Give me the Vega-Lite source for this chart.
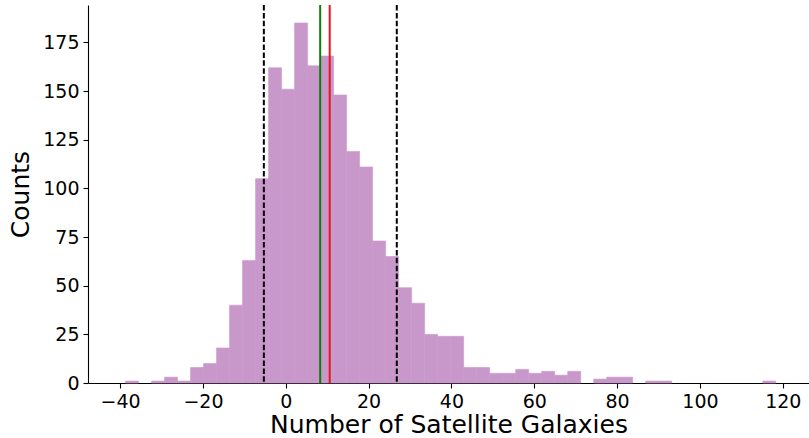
{
  "$schema": "https://vega.github.io/schema/vega-lite/v6.json",
  "autosize": "none",
  "width": 721,
  "height": 378,
  "padding": {"left": 88, "top": 5, "right": 0, "bottom": 55},
  "background": "white",
  "config": {
    "view": {"stroke": null},
    "font": "DejaVu Sans",
    "axis": {
      "grid": false,
      "domainColor": "#000000",
      "domainWidth": 1.1,
      "tickColor": "#000000",
      "tickWidth": 1.1,
      "tickSize": 5,
      "labelFont": "DejaVu Sans",
      "labelFontSize": 19,
      "labelColor": "#000000",
      "labelPadding": 4,
      "titleFont": "DejaVu Sans",
      "titleFontSize": 25,
      "titleFontWeight": "normal",
      "titleColor": "#000000"
    }
  },
  "datasets": {
    "bins": [
      {"bin_start": -38.70, "bin_end": -35.56, "count": 1},
      {"bin_start": -35.56, "bin_end": -32.42, "count": 0},
      {"bin_start": -32.42, "bin_end": -29.28, "count": 1},
      {"bin_start": -29.28, "bin_end": -26.14, "count": 3},
      {"bin_start": -26.14, "bin_end": -23.00, "count": 1},
      {"bin_start": -23.00, "bin_end": -19.86, "count": 8},
      {"bin_start": -19.86, "bin_end": -16.72, "count": 10},
      {"bin_start": -16.72, "bin_end": -13.58, "count": 18},
      {"bin_start": -13.58, "bin_end": -10.44, "count": 40},
      {"bin_start": -10.44, "bin_end": -7.30, "count": 63},
      {"bin_start": -7.30, "bin_end": -4.16, "count": 105},
      {"bin_start": -4.16, "bin_end": -1.02, "count": 162},
      {"bin_start": -1.02, "bin_end": 2.12, "count": 151},
      {"bin_start": 2.12, "bin_end": 5.26, "count": 185},
      {"bin_start": 5.26, "bin_end": 8.40, "count": 163},
      {"bin_start": 8.40, "bin_end": 11.54, "count": 168},
      {"bin_start": 11.54, "bin_end": 14.68, "count": 148},
      {"bin_start": 14.68, "bin_end": 17.82, "count": 119},
      {"bin_start": 17.82, "bin_end": 20.96, "count": 111},
      {"bin_start": 20.96, "bin_end": 24.10, "count": 73},
      {"bin_start": 24.10, "bin_end": 27.24, "count": 65},
      {"bin_start": 27.24, "bin_end": 30.38, "count": 49},
      {"bin_start": 30.38, "bin_end": 33.52, "count": 41},
      {"bin_start": 33.52, "bin_end": 36.66, "count": 25},
      {"bin_start": 36.66, "bin_end": 39.80, "count": 24},
      {"bin_start": 39.80, "bin_end": 42.94, "count": 24},
      {"bin_start": 42.94, "bin_end": 46.08, "count": 8},
      {"bin_start": 46.08, "bin_end": 49.22, "count": 8},
      {"bin_start": 49.22, "bin_end": 52.36, "count": 5},
      {"bin_start": 52.36, "bin_end": 55.50, "count": 5},
      {"bin_start": 55.50, "bin_end": 58.64, "count": 7},
      {"bin_start": 58.64, "bin_end": 61.78, "count": 5},
      {"bin_start": 61.78, "bin_end": 64.92, "count": 6},
      {"bin_start": 64.92, "bin_end": 68.06, "count": 4},
      {"bin_start": 68.06, "bin_end": 71.20, "count": 6},
      {"bin_start": 71.20, "bin_end": 74.34, "count": 0},
      {"bin_start": 74.34, "bin_end": 77.48, "count": 2},
      {"bin_start": 77.48, "bin_end": 80.62, "count": 3},
      {"bin_start": 80.62, "bin_end": 83.76, "count": 3},
      {"bin_start": 83.76, "bin_end": 86.90, "count": 0},
      {"bin_start": 86.90, "bin_end": 90.04, "count": 1},
      {"bin_start": 90.04, "bin_end": 93.18, "count": 1},
      {"bin_start": 93.18, "bin_end": 96.32, "count": 0},
      {"bin_start": 96.32, "bin_end": 99.46, "count": 0},
      {"bin_start": 99.46, "bin_end": 102.60, "count": 0},
      {"bin_start": 102.60, "bin_end": 105.74, "count": 0},
      {"bin_start": 105.74, "bin_end": 108.88, "count": 0},
      {"bin_start": 108.88, "bin_end": 112.02, "count": 0},
      {"bin_start": 112.02, "bin_end": 115.16, "count": 0},
      {"bin_start": 115.16, "bin_end": 118.30, "count": 1}
    ],
    "markers": [
      {"value": -5.3, "kind": "lower", "color": "#000000", "dashed": true},
      {"value": 26.8, "kind": "upper", "color": "#000000", "dashed": true},
      {"value": 8.3, "kind": "median", "color": "#0a800a", "dashed": false},
      {"value": 10.6, "kind": "mean", "color": "#e8141c", "dashed": false}
    ]
  },
  "layer": [
    {
      "data": {"name": "bins"},
      "transform": [{"filter": "datum.count > 0"}],
      "mark": {"type": "bar", "color": "#c998ca", "stroke": "#c998ca", "strokeWidth": 0.6, "orient": "vertical"},
      "encoding": {
        "x": {
          "field": "bin_start",
          "type": "quantitative",
          "scale": {"domain": [-46.55, 125.12], "nice": false, "zero": false},
          "axis": {
            "title": "Number of Satellite Galaxies",
            "values": [-40, -20, 0, 20, 40, 60, 80, 100, 120],
            "titlePadding": 1
          }
        },
        "x2": {"field": "bin_end"},
        "y": {
          "field": "count",
          "type": "quantitative",
          "scale": {"domain": [0, 194.25], "nice": false},
          "axis": {
            "title": "Counts",
            "values": [0, 25, 50, 75, 100, 125, 150, 175],
            "titlePadding": 9
          }
        },
        "y2": {"datum": 0}
      }
    },
    {
      "data": {"name": "markers"},
      "transform": [{"filter": "datum.dashed"}],
      "mark": {"type": "rule", "strokeWidth": 2, "strokeDash": [5.5, 2.4], "color": "#000000"},
      "encoding": {"x": {"field": "value", "type": "quantitative"}}
    },
    {
      "data": {"name": "markers"},
      "transform": [{"filter": "!datum.dashed"}],
      "mark": {"type": "rule", "strokeWidth": 2},
      "encoding": {
        "x": {"field": "value", "type": "quantitative"},
        "color": {"field": "color", "type": "nominal", "scale": null}
      }
    },
    {
      "mark": {"type": "rule", "color": "#000000", "strokeWidth": 1.1},
      "encoding": {"y": {"datum": 194.25}}
    }
  ]
}
